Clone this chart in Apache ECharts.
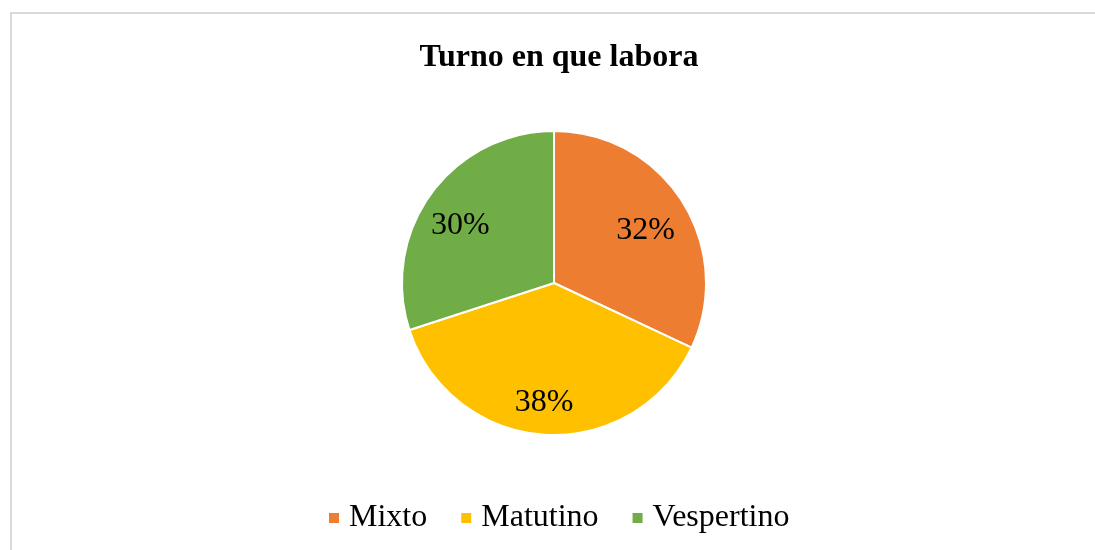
<!DOCTYPE html>
<html>
<head>
<meta charset="utf-8">
<script src="https://cdn.jsdelivr.net/npm/echarts@6/dist/echarts.min.js"></script>
<style>
  html, body { margin: 0; padding: 0; background: #fff; }
  #chart { width: 1095px; height: 550px; }
</style>
</head>
<body>
<div id="chart"></div>
<script>
var categories = ['Mixto', 'Matutino', 'Vespertino'];
var values = [32, 38, 30];
var colors = ['#ED7D31', '#FFC000', '#70AD47'];

var chart = echarts.init(document.getElementById('chart'));

var pieData = [];
var labelData = [];
for (var i = 0; i < categories.length; i++) {
    pieData.push({ name: categories[i], value: values[i], itemStyle: { color: colors[i] } });
    labelData.push({ name: categories[i], value: values[i] });
}

var serif = '"Liberation Serif", "Times New Roman", serif';

var option = {
    animation: false,
    backgroundColor: '#fff',
    graphic: [{
        type: 'rect',
        shape: { x: 11, y: 13, width: 1100, height: 560 },
        style: { fill: 'none', stroke: '#d9d9d9', lineWidth: 2 },
        silent: true
    }],
    title: {
        text: 'Turno en que labora',
        left: 554,
        textAlign: 'center',
        top: 37,
        textStyle: { fontFamily: serif, fontSize: 32, fontWeight: 'bold', color: '#000' }
    },
    legend: {
        data: categories,
        left: 327,
        top: 502,
        padding: 0,
        icon: 'rect',
        itemWidth: 12,
        itemHeight: 12,
        itemGap: 32,
        textStyle: { fontFamily: serif, fontSize: 32, color: '#000', padding: [0, 0, 0, 4] }
    },
    series: [
        {
            type: 'pie',
            center: [554, 283],
            radius: [0, 152],
            startAngle: 90,
            clockwise: true,
            data: pieData,
            itemStyle: { borderColor: '#fff', borderWidth: 2 },
            label: { show: false },
            labelLine: { show: false },
            emphasis: { disabled: true }
        },
        {
            // invisible ring, only to place the percentage labels
            type: 'pie',
            center: [554, 283],
            radius: [66, 152],
            startAngle: 90,
            clockwise: true,
            data: labelData,
            silent: true,
            itemStyle: { color: 'rgba(0,0,0,0)', borderWidth: 0 },
            label: {
                show: true,
                position: 'inside',
                formatter: '{d}%',
                fontFamily: serif,
                fontSize: 32,
                color: '#000',
                offset: [-3, 8]
            },
            labelLine: { show: false },
            emphasis: { disabled: true }
        }
    ]
};
chart.setOption(option);
</script>
</body>
</html>
